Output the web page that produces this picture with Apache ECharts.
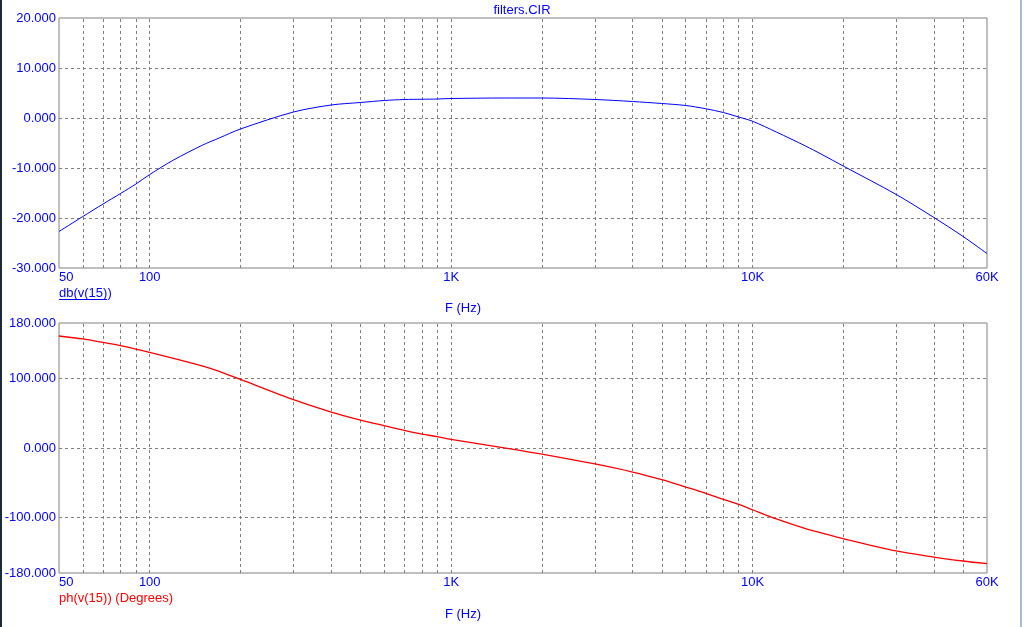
<!DOCTYPE html>
<html>
<head>
<meta charset="utf-8">
<script src="https://cdn.jsdelivr.net/npm/echarts@6/dist/echarts.min.js"></script>
<style>
html,body{margin:0;padding:0;background:#fff;}
#chart{width:1024px;height:627px;}
</style>
</head>
<body>
<div id="chart"></div>
<script>
// Frequencies (Hz)
var freqs = [50, 60, 70, 80, 90, 100, 120, 150, 170, 200, 300, 400, 500, 600, 700, 800, 900, 1000, 1500, 2000, 3000, 4000, 5000, 6000, 7000, 8000, 9000, 10000, 12000, 15000, 17000, 20000, 30000, 40000, 50000, 60000];
// db(v(15))
var dbValues = [-22.7, -19.7, -17.2, -15.1, -13.2, -11.3, -8.4, -5.4, -4.0, -2.2, 1.2, 2.6, 3.1, 3.5, 3.7, 3.75, 3.8, 3.9, 4.0, 4.0, 3.7, 3.3, 2.9, 2.5, 1.85, 1.1, 0.2, -0.65, -2.8, -5.6, -7.3, -9.6, -15.3, -19.9, -23.7, -27.1];
// ph(v(15)) (Degrees)
var phValues = [161.3, 157.0, 152.0, 147.3, 142.5, 137.7, 129.2, 118.0, 110.5, 98.8, 69.6, 51.8, 40.3, 32.1, 25.4, 20.1, 16.3, 12.4, 0.3, -8.7, -23.0, -34.6, -45.6, -56.2, -65.3, -74.0, -81.2, -88.9, -102.0, -116.0, -122.5, -130.5, -148.3, -157.0, -162.7, -166.6];

var xTickLabels = [50, 100, 1000, 10000, 60000];
var xGridValues = [60, 70, 80, 90, 100, 200, 300, 400, 500, 600, 700, 800, 900, 1000, 2000, 3000, 4000, 5000, 6000, 7000, 8000, 9000, 10000, 20000, 30000, 40000, 50000];
var dbTicks = [20, 10, 0, -10, -20, -30];
var dbGrid = [10, 0, -10, -20];
var phTicks = [180, 100, 0, -100, -180];
var phGrid = [100, 0, -100];

var FONT = 'Liberation Sans, Arial, sans-serif';
var GRID_COLOR = '#808080';

function pairs(xs, ys) { return xs.map(function (x, i) { return [x, ys[i]]; }); }
function fmtX(v) {
  if (v >= 1000) return Math.round(v / 1000) + 'K';
  return String(Math.round(v));
}
function gridMarks(xs, ys) {
  var d = [];
  xs.forEach(function (v) { d.push({ xAxis: v }); });
  ys.forEach(function (v) { d.push({ yAxis: v }); });
  return {
    silent: true, symbol: ['none', 'none'], label: { show: false },
    lineStyle: { type: [3, 3], color: GRID_COLOR, width: 1 },
    emphasis: { disabled: true },
    animation: false, data: d
  };
}
function xAxisCfg(idx) {
  return {
    type: 'log', logBase: 10, gridIndex: idx, min: 50, max: 60000,
    axisLine: { show: false }, axisTick: { show: false }, splitLine: { show: false },
    axisLabel: {
      customValues: xTickLabels, formatter: fmtX, margin: 3,
      color: '#0000ff', fontFamily: FONT, fontSize: 13, alignMinLabel: 'left'
    }
  };
}
function yAxisCfg(idx, min, max, ticks) {
  return {
    type: 'value', gridIndex: idx, min: min, max: max,
    axisLine: { show: false }, axisTick: { show: false }, splitLine: { show: false },
    axisLabel: {
      customValues: ticks, formatter: function (v) { return v.toFixed(3); }, margin: 3,
      color: '#0000ff', fontFamily: FONT, fontSize: 13
    }
  };
}

var chart = echarts.init(document.getElementById('chart'), null, { renderer: 'canvas' });
chart.setOption({
  backgroundColor: '#ffffff',
  animation: false,
  grid: [
    { left: 59, top: 18, width: 928, height: 250, show: true, borderColor: GRID_COLOR, borderWidth: 1, backgroundColor: 'transparent' },
    { left: 59, top: 323, width: 928, height: 250, show: true, borderColor: GRID_COLOR, borderWidth: 1, backgroundColor: 'transparent' }
  ],
  xAxis: [xAxisCfg(0), xAxisCfg(1)],
  yAxis: [yAxisCfg(0, -30, 20, dbTicks), yAxisCfg(1, -180, 180, phTicks)],
  series: [
    {
      type: 'line', name: 'db(v(15))', xAxisIndex: 0, yAxisIndex: 0,
      data: pairs(freqs, dbValues), showSymbol: false, smooth: 0.3,
      lineStyle: { color: '#0000ff', width: 1 }, z: 5,
      markLine: gridMarks(xGridValues, dbGrid)
    },
    {
      type: 'line', name: 'ph(v(15))', xAxisIndex: 1, yAxisIndex: 1,
      data: pairs(freqs, phValues), showSymbol: false, smooth: 0.3,
      lineStyle: { color: '#ff0000', width: 1.3 }, z: 5,
      markLine: gridMarks(xGridValues, phGrid)
    }
  ],
  graphic: [
    { type: 'rect', left: 0, top: 0, shape: { width: 2, height: 627 }, style: { fill: '#1c2b3c' }, silent: true },
    { type: 'rect', left: 1020, top: 0, shape: { width: 2, height: 627 }, style: { fill: '#a9bcd6' }, silent: true },
    { type: 'text', x: 522, y: 4, style: { text: 'filters.CIR', fill: '#0000ff', font: '13px ' + FONT, textAlign: 'center' } },
    { type: 'text', x: 59, y: 287, style: { text: 'db(v(15))', fill: '#0000ff', font: '13px ' + FONT, textAlign: 'left' } },
    { type: 'line', shape: { x1: 59, y1: 299.5, x2: 107, y2: 299.5 }, style: { stroke: '#0000ff', lineWidth: 1 } },
    { type: 'text', x: 463, y: 302, style: { text: 'F (Hz)', fill: '#0000ff', font: '13px ' + FONT, textAlign: 'center' } },
    { type: 'text', x: 59, y: 592, style: { text: 'ph(v(15)) (Degrees)', fill: '#ff0000', font: '13px ' + FONT, textAlign: 'left' } },
    { type: 'text', x: 463, y: 608, style: { text: 'F (Hz)', fill: '#0000ff', font: '13px ' + FONT, textAlign: 'center' } }
  ]
});
</script>
</body>
</html>
